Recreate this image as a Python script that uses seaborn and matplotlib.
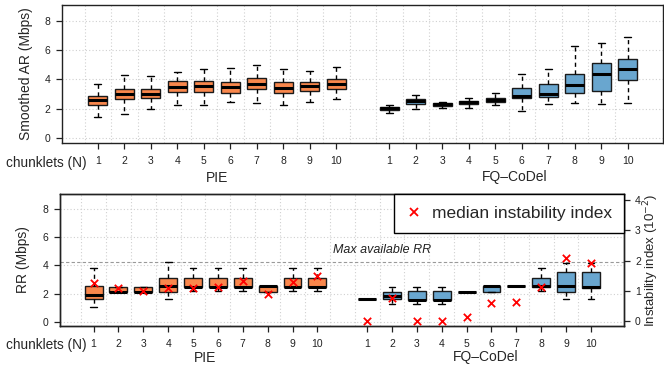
import numpy as np
import pandas as pd
import matplotlib
matplotlib.use("Agg")
import matplotlib.pyplot as plt
import matplotlib.transforms as mtrans
from matplotlib.lines import Line2D
import seaborn as sns

# ---- data ----
chunklets = list(range(1, 11))
pie_pos = [1, 2, 3, 4, 5, 6, 7, 8, 9, 10]
fq_pos = [12, 13, 14, 15, 16, 17, 18, 19, 20, 21]

# smoothed AR (Mbps): five-number summaries
ar_pie_lo = [1.43, 1.66, 1.98, 2.27, 2.27, 2.43, 2.36, 2.25, 2.43, 2.64]
ar_pie_q1 = [2.25, 2.66, 2.73, 3.16, 3.16, 3.07, 3.34, 3.07, 3.20, 3.34]
ar_pie_med = [2.61, 2.98, 3.00, 3.50, 3.52, 3.45, 3.68, 3.43, 3.52, 3.66]
ar_pie_q3 = [2.89, 3.34, 3.34, 3.89, 3.89, 3.80, 4.07, 3.82, 3.84, 4.02]
ar_pie_hi = [3.68, 4.27, 4.20, 4.48, 4.68, 4.77, 4.95, 4.70, 4.57, 4.82]

ar_fq_lo = [1.70, 2.00, 2.05, 2.07, 2.25, 1.82, 2.30, 2.41, 2.32, 2.36]
ar_fq_q1 = [1.91, 2.34, 2.20, 2.32, 2.43, 2.73, 2.82, 3.09, 3.23, 3.93]
ar_fq_med = [2.02, 2.50, 2.30, 2.43, 2.59, 2.89, 3.02, 3.59, 4.36, 4.68]
ar_fq_q3 = [2.09, 2.66, 2.39, 2.52, 2.73, 3.39, 3.66, 4.36, 5.11, 5.36]
ar_fq_hi = [2.23, 2.91, 2.48, 2.70, 3.09, 4.34, 4.68, 6.27, 6.50, 6.86]

# RR (Mbps)
rr_pie_lo = [1.06, 2.13, 2.09, 1.58, 2.19, 2.19, 2.19, 2.14, 2.19, 2.19]
rr_pie_q1 = [1.58, 2.13, 2.09, 2.14, 2.47, 2.47, 2.47, 2.14, 2.47, 2.47]
rr_pie_med = [1.88, 2.13, 2.09, 2.52, 2.47, 2.47, 2.47, 2.52, 2.47, 2.47]
rr_pie_q3 = [2.52, 2.49, 2.49, 3.08, 3.08, 3.08, 3.08, 2.52, 3.08, 3.08]
rr_pie_hi = [3.84, 2.49, 2.49, 4.21, 3.84, 3.84, 3.84, 2.52, 3.84, 3.84]

rr_fq_lo = [1.58, 1.29, 1.29, 1.29, 2.14, 2.14, 2.52, 2.19, 1.58, 1.58]
rr_fq_q1 = [1.58, 1.58, 1.53, 1.53, 2.14, 2.14, 2.52, 2.47, 2.14, 2.42]
rr_fq_med = [1.58, 1.86, 1.53, 1.53, 2.14, 2.54, 2.52, 2.52, 2.52, 2.47]
rr_fq_q3 = [1.58, 2.14, 2.19, 2.19, 2.14, 2.54, 2.52, 3.08, 3.55, 3.55]
rr_fq_hi = [1.58, 2.49, 2.49, 2.49, 2.14, 2.54, 2.52, 3.84, 4.16, 4.16]

# median instability index (10^-2)
inst_pie = [1.25, 1.11, 1.01, 1.09, 1.11, 1.14, 1.34, 0.90, 1.31, 1.50]
inst_fq = [0.00, 0.76, 0.00, 0.00, 0.16, 0.60, 0.65, 1.14, 2.07, 1.91]

max_rr = 4.21

ORANGE = "#F9874C"
BLUE = "#69A6CF"
EDGE = "#1a1a1a"


def five_num_frame(pos, lo, q1, med, q3, hi, group):
    rows = []
    for p, a, b, c, d, e in zip(pos, lo, q1, med, q3, hi):
        for v in (a, b, c, d, e):
            rows.append({"pos": p, "val": v, "group": group})
    return pd.DataFrame(rows)


ar_df = pd.concat([
    five_num_frame(pie_pos, ar_pie_lo, ar_pie_q1, ar_pie_med, ar_pie_q3, ar_pie_hi, "PIE"),
    five_num_frame(fq_pos, ar_fq_lo, ar_fq_q1, ar_fq_med, ar_fq_q3, ar_fq_hi, "FQ-CoDel"),
])
rr_df = pd.concat([
    five_num_frame(pie_pos, rr_pie_lo, rr_pie_q1, rr_pie_med, rr_pie_q3, rr_pie_hi, "PIE"),
    five_num_frame(fq_pos, rr_fq_lo, rr_fq_q1, rr_fq_med, rr_fq_q3, rr_fq_hi, "FQ-CoDel"),
])
inst_df = pd.DataFrame({"pos": pie_pos + fq_pos, "inst": inst_pie + inst_fq})

sns.set_style("white")
plt.rcParams["font.family"] = ["Liberation Sans", "DejaVu Sans"]
plt.rcParams["axes.linewidth"] = 1.0

W, H = 664, 366
fig = plt.figure(figsize=(W / 100, H / 100), dpi=100)

def px_axes(l, t, r, b):
    return fig.add_axes([l / W, 1 - b / H, (r - l) / W, (b - t) / H])

ax1 = px_axes(62, 5, 663, 143)
ax2 = px_axes(60, 194, 624, 326)

box_kw = dict(x="pos", y="val", hue="group", native_scale=True, dodge=False,
              palette={"PIE": ORANGE, "FQ-CoDel": BLUE}, saturation=1,
              width=0.72, whis=(0, 100), showfliers=False, legend=False,
              linecolor=EDGE, linewidth=1.0, capwidths=0.27,
              whiskerprops=dict(linestyle=(0, (3, 2.5)), linewidth=1.0, color="black"),
              capprops=dict(linewidth=1.0, color="black"),
              medianprops=dict(linewidth=2.2, color="black"))

for ax, df in ((ax1, ar_df), (ax2, rr_df)):
    # R-style dotted grid
    for gx in np.arange(0.5, 21, 1.0):
        ax.axvline(gx, color="#d0d0d0", lw=0.8, ls=(0, (1, 2)), zorder=0)
    for gy in [0, 2, 4, 6, 8]:
        ax.axhline(gy, color="#d0d0d0", lw=0.8, ls=(0, (1, 2)), zorder=0)
    sns.boxplot(data=df, ax=ax, **box_kw)
    ax.set_xlim(-0.35, 22.33)
    ax.set_xticks(pie_pos + fq_pos)
    ax.set_xticklabels([str(c) for c in chunklets] * 2)
    ax.set_yticks([0, 2, 4, 6, 8])
    ax.set_xlabel("")
    ax.tick_params(axis="both", direction="out", length=4, width=0.9,
                   labelsize=7.5, colors="#222222", pad=4.5)
    ax.tick_params(axis="x", pad=5.5)
    ax.tick_params(axis="y", left=True)
    ax.tick_params(axis="x", bottom=True)
    for s in ax.spines.values():
        s.set_color("#222222")
        s.set_linewidth(1.0)

ax1.set_ylim(-0.34, 9.07)
ax2.set_ylim(-0.30, 9.06)
ax1.set_ylabel("Smoothed AR (Mbps)", fontsize=10, labelpad=8)
ax2.set_ylabel("RR (Mbps)", fontsize=10, labelpad=9)

# group labels and the "chunklets (N)" row label
for ax, ty, gy in ((ax1, 162.5, 177.5), (ax2, 345, 357.5)):
    tr = mtrans.blended_transform_factory(ax.transData, fig.transFigure)
    ax.text(5.5, 1 - gy / H, "PIE", transform=tr, ha="center", va="center", fontsize=10)
    ax.text(16.75, 1 - gy / H, "FQ\u2013CoDel", transform=tr, ha="center", va="center", fontsize=10)
    fig.text(6 / W, 1 - ty / H, "chunklets (N)", ha="left", va="center", fontsize=9.8)

# max available RR
ax2.axhline(max_rr, color="#999999", lw=0.8, ls=(0, (3, 2)), zorder=1)
ax2.text(10.63, 5.1, "Max available RR", fontsize=9, style="italic",
         ha="left", va="center", color="#222222")

# instability index on the right axis
ax3 = ax2.twinx()
sns.scatterplot(data=inst_df, x="pos", y="inst", ax=ax3, marker="x",
                color="red", s=28, linewidth=1.3, zorder=5, legend=False)
ax3.set_ylim(-0.15, 4.19)
ax3.set_yticks([0, 1, 2, 3, 4])
ax3.set_xlabel("")
ax3.tick_params(axis="y", right=True, direction="out", length=4, width=0.9,
                labelsize=7.5, colors="#222222", pad=4)
for s in ax3.spines.values():
    s.set_color("#222222")
    s.set_linewidth(1.0)
ax3.set_ylabel("")
fig.text(651 / W, 1 - 260 / H, "Instability index (10$^{-2}$)", rotation=90,
         ha="center", va="center", fontsize=9.5)

handle = Line2D([], [], ls="none", marker="x", color="red", markersize=6, mew=1.3)
leg = ax3.legend([handle], ["median instability index"], loc="upper right",
                 bbox_to_anchor=(1, 1), borderaxespad=0, fontsize=12.5,
                 frameon=True, fancybox=False, edgecolor="black",
                 handlelength=0.9, handletextpad=0.55, borderpad=0.7)
leg.get_frame().set_linewidth(1.0)
leg.get_frame().set_alpha(1)

fig.savefig("out.png", dpi=100)
